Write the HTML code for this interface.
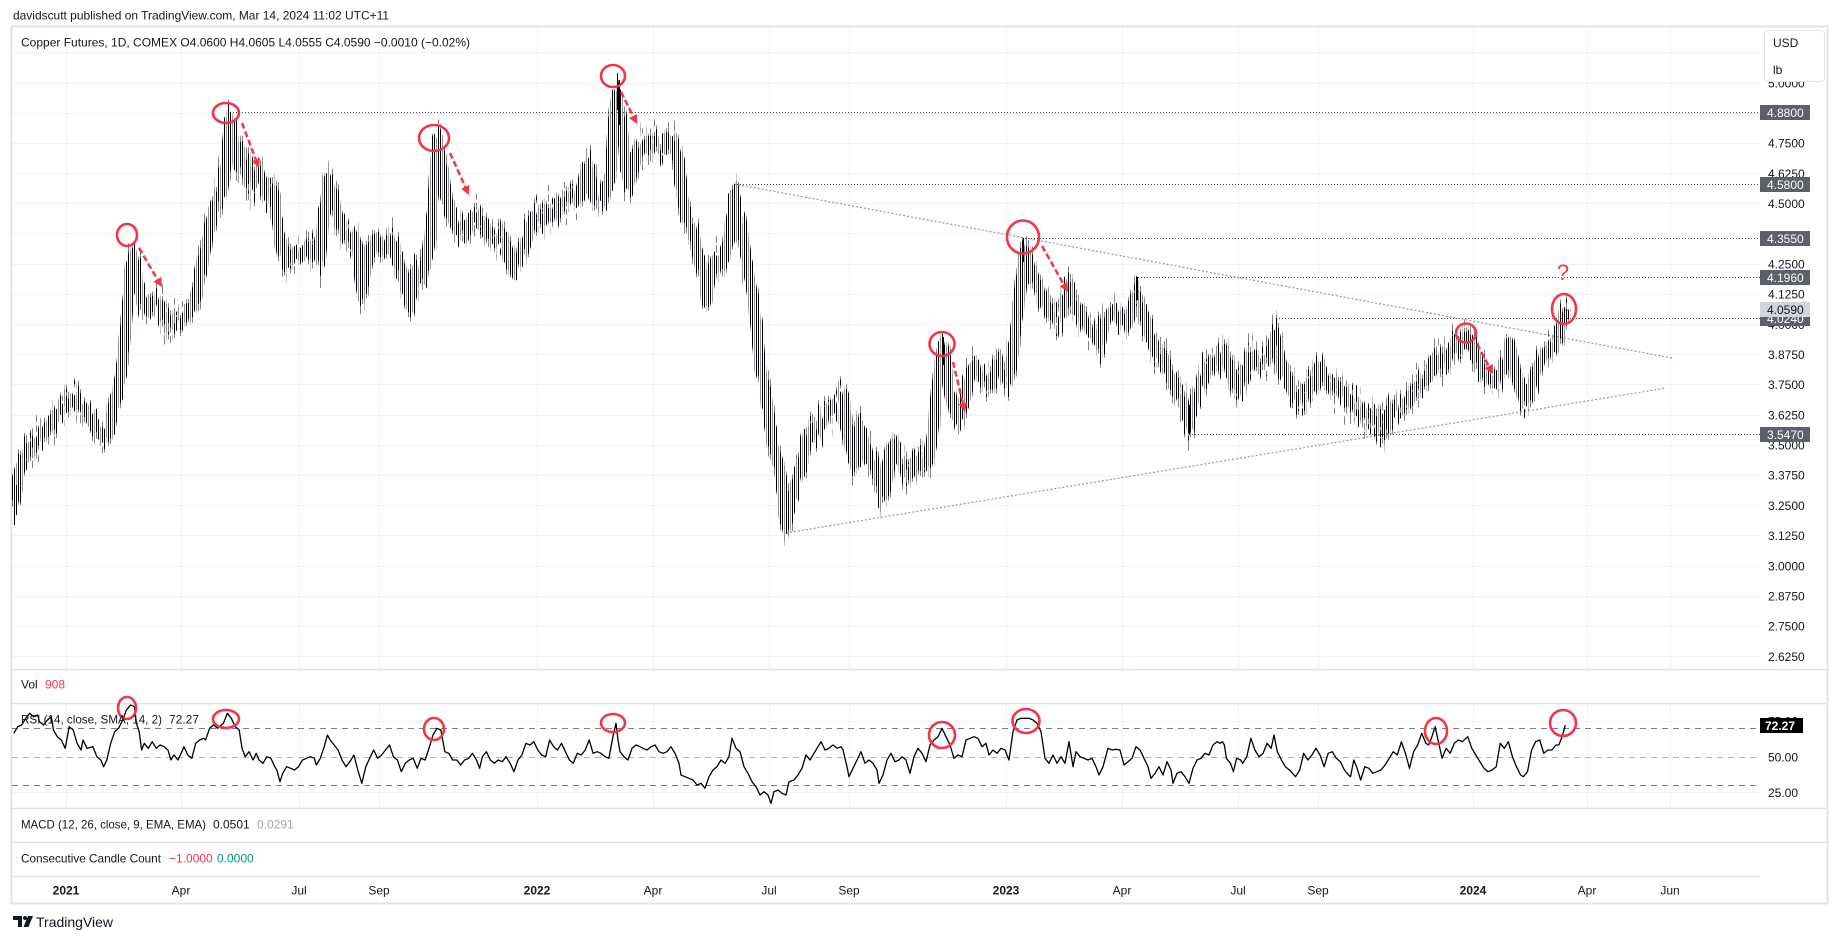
<!DOCTYPE html>
<html><head><meta charset="utf-8"><title>Copper Futures</title>
<style>
html,body{margin:0;padding:0;background:#fff;}
svg{display:block;font-family:"Liberation Sans",Arial,sans-serif;}
</style></head><body>
<svg width="1838" height="939" viewBox="0 0 1838 939" xmlns="http://www.w3.org/2000/svg">
<rect width="1838" height="939" fill="#fff"/>
<defs>
<clipPath id="pc"><rect x="12" y="27" width="1748" height="642"/></clipPath>
<clipPath id="rc"><rect x="12" y="704" width="1748" height="104"/></clipPath>
<pattern id="vb" patternUnits="userSpaceOnUse" x="0" y="0" width="6" height="10">
<rect x="0" y="0" width="1" height="10" fill="#000"/>
<rect x="2" y="0" width="1" height="10" fill="#000"/>
<rect x="4" y="0" width="1" height="10" fill="#8f929b"/>
</pattern>
<filter id="jagA" filterUnits="userSpaceOnUse" x="0" y="0" width="1838" height="700" color-interpolation-filters="sRGB">
<feTurbulence type="fractalNoise" baseFrequency="0.45 0" numOctaves="2" seed="3" result="t"/>
<feColorMatrix in="t" type="matrix" values="0 0 0 0 0.5  0 1 0 0 0  0 0 0 0 0  0 0 0 0 1" result="m"/>
<feDisplacementMap in="SourceGraphic" in2="m" scale="52" xChannelSelector="R" yChannelSelector="G"/>
</filter>
<filter id="jagB" filterUnits="userSpaceOnUse" x="0" y="0" width="1838" height="700" color-interpolation-filters="sRGB">
<feTurbulence type="fractalNoise" baseFrequency="0.5 0" numOctaves="2" seed="11" result="t"/>
<feColorMatrix in="t" type="matrix" values="0 0 0 0 0.5  0 1 0 0 0  0 0 0 0 0  0 0 0 0 1" result="m"/>
<feDisplacementMap in="SourceGraphic" in2="m" scale="84" xChannelSelector="R" yChannelSelector="G"/>
</filter>
<filter id="jagC" filterUnits="userSpaceOnUse" x="0" y="0" width="1838" height="700" color-interpolation-filters="sRGB">
<feTurbulence type="fractalNoise" baseFrequency="0.6 0" numOctaves="1" seed="27" result="t"/>
<feColorMatrix in="t" type="matrix" values="0 0 0 0 0.5  0 1 0 0 0  0 0 0 0 0  0 0 0 0 1" result="m"/>
<feDisplacementMap in="SourceGraphic" in2="m" scale="70" xChannelSelector="R" yChannelSelector="G"/>
</filter>
<polyline id="pp" points="14,505 18,480 22,460 30,448 40,438 50,425 60,410 70,400 75,398 82,408 90,418 98,432 104,438 109,430 114,405 119,385 124,350 128,300 131,265 134,255 137,280 141,300 146,310 152,300 158,305 164,315 170,325 176,320 182,320 188,312 194,305 198,285 204,255 210,225 215,205 220,195 224,180 227,150 230,122 234,140 238,165 242,150 247,175 252,185 258,170 263,185 268,195 273,190 278,225 283,255 288,262 295,252 302,255 310,245 316,255 320,260 324,215 328,180 332,195 338,215 345,235 352,240 358,250 362,295 366,265 371,250 377,240 384,250 391,240 396,255 401,270 406,285 410,305 415,270 420,280 426,265 430,240 434,190 438,140 442,165 447,200 452,215 458,230 465,235 470,220 477,215 484,225 490,235 496,240 502,235 508,250 513,270 518,255 524,250 530,225 536,215 542,220 548,210 554,215 560,205 566,200 572,195 578,200 584,180 589,165 593,195 598,200 603,200 607,190 611,170 614,120 617,95 620,110 623,140 626,170 630,185 634,160 638,150 642,145 647,150 652,140 657,145 662,150 667,140 672,145 676,150 679,165 682,195 686,215 690,225 695,240 700,260 704,280 707,300 711,270 716,260 721,265 726,250 730,240 734,195 737,215 741,225 745,250 749,275 753,300 757,330 760,365 764,380 768,410 772,440 776,455 780,470 783,500 786,525 790,505 795,485 800,470 805,450 810,430 815,435 820,425 825,415 830,410 835,405 840,400 843,395 847,430 851,450 855,465 859,425 863,440 868,455 873,465 878,470 882,495 886,490 890,450 894,445 899,460 904,470 909,475 913,470 918,455 923,465 928,460 932,440 935,410 938,380 941,355 944,348 948,385 952,400 956,415 960,420 964,400 968,385 972,370 976,365 980,375 985,380 990,385 995,375 999,360 1003,375 1008,380 1012,360 1016,330 1019,300 1022,270 1025,250 1029,265 1034,280 1040,290 1046,305 1052,315 1058,320 1064,310 1069,285 1073,305 1078,310 1084,320 1090,330 1096,330 1100,345 1105,320 1110,315 1115,310 1120,320 1126,325 1131,310 1136,295 1140,305 1145,320 1150,335 1155,350 1160,355 1165,360 1170,375 1175,390 1180,395 1185,410 1189,425 1193,405 1198,390 1203,380 1208,365 1213,360 1218,365 1223,350 1228,365 1233,380 1238,390 1243,380 1248,360 1253,355 1258,365 1263,360 1268,360 1272,350 1276,335 1280,360 1285,370 1290,385 1295,395 1300,400 1305,395 1310,385 1315,380 1319,365 1324,380 1329,385 1334,390 1339,385 1344,395 1349,400 1354,405 1359,410 1364,415 1369,420 1374,415 1379,425 1384,432 1389,415 1394,405 1399,410 1404,405 1409,400 1414,390 1419,385 1424,380 1429,375 1434,360 1439,355 1444,365 1449,355 1454,345 1459,348 1464,340 1468,338 1472,345 1476,355 1480,365 1485,375 1490,380 1495,382 1500,375 1505,365 1510,345 1515,370 1520,390 1525,400 1530,395 1535,375 1540,360 1545,355 1550,350 1555,345 1559,335 1562,322 1566,310"/>
</defs>
<!-- grid -->
<g stroke="#f0f3fa" stroke-width="1" fill="none">
<path d="M12 52.5H1760M12 83.5H1760M12 113.5H1760M12 143.5H1760M12 173.5H1760M12 203.5H1760M12 233.5H1760M12 264.5H1760M12 294.5H1760M12 324.5H1760M12 354.5H1760M12 384.5H1760M12 415.5H1760M12 445.5H1760M12 475.5H1760M12 505.5H1760M12 535.5H1760M12 566.5H1760M12 596.5H1760M12 626.5H1760M12 656.5H1760"/>
<path d="M66.5 27V669M181.5 27V669M299.5 27V669M379.5 27V669M537.5 27V669M653.5 27V669M769.5 27V669M849.5 27V669M1006.5 27V669M1122.5 27V669M1238.5 27V669M1318.5 27V669M1473.5 27V669M1587.5 27V669M1670.5 27V669"/>
<path d="M66.5 703V808M181.5 703V808M299.5 703V808M379.5 703V808M537.5 703V808M653.5 703V808M769.5 703V808M849.5 703V808M1006.5 703V808M1122.5 703V808M1238.5 703V808M1318.5 703V808M1473.5 703V808M1587.5 703V808M1670.5 703V808"/>
<path d="M12 721.5H1760M12 792.5H1760"/>
</g>
<g stroke="#e0e3eb" stroke-width="1.5" fill="none">
<path d="M12 669.5H1828M12 703.5H1828M12 808.5H1828M12 842.5H1828M12 876.5H1760"/>
</g>
<rect x="11.5" y="26.5" width="1816" height="877" fill="none" stroke="#e0e3eb" stroke-width="2"/>

<text x="13" y="19.3" font-size="12" fill="#131722" textLength="376" lengthAdjust="spacingAndGlyphs">davidscutt published on TradingView.com, Mar 14, 2024 11:02 UTC+11</text>
<text x="21" y="46.3" font-size="12" fill="#131722" textLength="449" lengthAdjust="spacingAndGlyphs">Copper Futures, 1D, COMEX  O4.0600  H4.0605  L4.0555  C4.0590  −0.0010 (−0.02%)</text>

<g stroke="#434651" stroke-width="1" stroke-dasharray="1 2" fill="none">
<path d="M230 112.5H1760"/>
<path d="M734 184.5H1760"/>
<path d="M1025 238.5H1760"/>
<path d="M1138 277.5H1760"/>
<path d="M1276 318.5H1760"/>
<path d="M1189 434.5H1760"/>
</g>
<g stroke="#9598a1" stroke-width="1.2" stroke-dasharray="2 2" fill="none">
<path d="M734 184L1672 358"/>
<path d="M786 533L1666 388"/>
</g>

<!-- price bars -->
<g clip-path="url(#pc)">
<g fill="none" stroke="url(#vb)" stroke-linejoin="round" stroke-linecap="butt">
<use href="#pp" filter="url(#jagA)" stroke-width="12"/>
<use href="#pp" filter="url(#jagB)" stroke-width="5"/>
<use href="#pp" filter="url(#jagC)" stroke-width="4"/>
</g>
<path stroke="#000" stroke-width="1" fill="none" d="M14.5 495V525M16.5 485V515M134.5 245V272M230.5 112V140M438.5 127V150M617.5 73V110M619.5 80V125M734.5 184V215M786.5 505V534M943.5 337V365M1023.5 238V262M1137.5 277V300M1189.5 405V434M1276.5 318V345M1384.5 410V440M1468.5 330V350M1564.5 307V323M1566.5 309.9V311.1M1565.5 310H1566.5M1566.5 310.3H1567.5"/>
</g>

<g stroke-width="1" fill="none" stroke-dasharray="6 5">
<path d="M12 728.5H1760" stroke="#787b86"/>
<path d="M12 757.5H1760" stroke="#b2b5be"/>
<path d="M12 785.5H1760" stroke="#787b86"/>
</g>
<g clip-path="url(#rc)">
<polyline fill="none" stroke="#000" stroke-width="1.3" stroke-linejoin="round" points="13.8,733.3 17.8,726.7 21.7,725 25.7,718.3 29.7,713.3 33.6,716.7 37.6,715 39.5,721.7 43.5,725 47.4,720 51.4,716.7 53.4,730 57.3,736.7 61.3,740 65.2,748.3 69.2,726.7 73.2,730 77.1,743.3 81.1,750 83,740 87,748.3 92.9,746.7 96.9,756.7 100.8,760 103.6,766.7 106.8,760 110.7,743.3 114.7,731.7 118.6,728.3 122.6,720 126.5,710 130.5,705 134.4,706.7 136.4,723.3 139.2,731.7 141.6,750 144.3,743.3 148.3,748.3 152.2,741.7 156.2,748.3 160.1,745 164.1,746.7 168,750 170.8,760 174,755 177.9,760 181.9,751.7 183.9,746.7 187.8,755 191.8,758.3 195.7,743.3 199.7,740 203.6,738.3 205.6,740 209.6,728.3 213.5,725 217.5,728.3 223.4,723.3 227.4,713.3 231.3,718.3 235.3,726.7 239.2,730 242,748.3 245.2,756.7 249.1,751.7 253.1,760 256.2,753.3 259,760 263,763.3 266.9,756.7 270.9,758.3 274.8,766.7 276.8,770 280,781.7 282.7,773.3 286.7,766.7 290.6,768.3 294.6,770 298.5,766.7 302.5,760 306.4,758.3 310.4,756.7 314.4,758.3 316.3,765 320.3,758.3 324.2,746.7 327.4,735 330.2,740 334.1,745 338.1,750 342,760 346,766.7 349.9,761.7 353.9,755 357.8,770 361.8,783.3 365.8,766.7 369.7,758.3 373.7,750 377.6,758.3 381.6,755 385.5,750 389.5,745 393.4,756.7 397.4,760 401.3,771.7 405.3,763.3 409.3,760 413.2,758.3 417.2,768.3 421.1,758.3 425.1,760 429,748.3 433,735 436.9,728.3 440.9,730 444.8,751.7 448.8,753.3 452.7,760 456.7,760 460.7,765 464.6,760 468.6,758.3 472.5,753.3 476.5,760 479.6,768.3 482.4,756.7 486.4,751.7 490.3,760 494.3,763.3 498.2,760 502.2,761.7 506.1,756.7 510.1,763.3 514,771.7 518,760 521.9,755 525.9,743.3 529.9,745 533.8,741.7 537.8,750 541.7,755 545.7,756.7 549.6,740 553.6,746.7 557.5,750 561.5,743.3 565.4,751.7 569.4,760 573.3,763.3 577.3,753.3 581.3,755 585.2,750 589.2,740 593.1,753.3 597.1,751.7 601,753.3 605,756.7 608.9,758.3 612.9,736.7 616,723.3 618,740 620,751.7 624,756.7 628,760 632,748.3 636,745 640,746.7 643,748.3 647,750 651,746.7 655,745 659,751.7 663,753.3 667,751.7 671,746.7 675,753.3 679,763.3 681,775 685,776.7 689,778.3 693,780 697,785 701,783.3 705,788.3 709,776.7 713,770 717,766.7 721,760 725,763.3 729,756.7 732,738.3 736,748.3 740,751.7 744,766.7 748,773.3 752,781.7 756,786.7 760,795 764,791.7 768,795 771,803.3 774,791.7 778,790 782,793.3 786,795 789,781.7 794,780 798,775 802,768.3 806,755 810,760 814,753.3 817,748.3 821,741.7 825,750 829,748.3 833,745 837,748.3 841,746.7 843,750 847,766.7 849,776.7 853,768.3 857,760 861,751.7 865,763.3 869,760 873,763.3 877,770 879,783.3 883,775 887,760 891,753.3 895,761.7 899,760 902,756.7 906,760 910,773.3 914,756.7 918,748.3 922,753.3 926,761.7 930,745 934,740 938,736.7 942,728.3 946,736.7 950,745 954,758.3 958,755 962,756.7 966,740 970,738.3 974,736.7 978,738.3 982,746.7 986,743.3 989,755 993,750 997,753.3 1001,748.3 1005,750 1009,760 1013,731.7 1017,720 1021,718.3 1025,718.3 1029,718.3 1033,720 1037,723.3 1041,731.7 1045,758.3 1049,763.3 1053,755 1057,763.3 1061,756.7 1065,763.3 1069,741.7 1073,766.7 1076,751.7 1080,756.7 1084,758.3 1088,760 1092,758.3 1096,766.7 1099,775 1103,766.7 1108,748.3 1112,750 1116,749.3 1120,750 1124,765 1128,761.7 1132,758.3 1136,746.7 1140,750 1144,758.3 1148,766.7 1151,778.3 1155,773.3 1159,766.7 1163,775 1167,761.7 1171,770 1173,783.3 1177,773.3 1181,771.7 1185,776.7 1189,783.3 1193,768.3 1197,760 1201,758.3 1205,753.3 1209,755 1213,745 1217,741.7 1220,743.3 1222.4,741.7 1224.4,745 1226.4,758.3 1230.5,763.3 1233.4,771.7 1236.6,758.3 1240.7,760 1242.7,763.3 1246.8,756.7 1250.9,738.3 1254.9,750 1259,756.7 1263.1,753.3 1267.1,743.3 1271.2,748.3 1274,735 1277.3,751.7 1281.4,760 1285.4,766.7 1289.5,770 1295.6,776.7 1299.7,770 1303.7,753.3 1307.8,760 1311.9,755 1315.9,748.3 1320,755 1324.1,766.7 1328.2,753.3 1332.2,751.7 1336.3,758.3 1340.4,761.7 1344.4,770 1348.5,775 1350.5,776.7 1353.8,760 1356.6,766.7 1360.7,780 1364.8,766.7 1368.8,768.3 1372.9,773.3 1377,771.7 1381,770 1385.1,765 1389.2,758.3 1393.2,751.7 1397.3,755 1401.4,741.7 1405.4,753.3 1409.5,768.3 1413.6,751.7 1417.7,745 1421.7,733.3 1425.8,743.3 1428.6,745 1431.9,736.7 1435.2,726.7 1438,740 1442.1,758.3 1446.1,748.3 1450.2,753.3 1454.3,743.3 1458.3,740 1462.4,741.7 1467.7,736.7 1471.8,748.3 1475.8,755 1479.9,761.7 1484,768.3 1488,771.7 1492.1,770 1496.2,766.7 1500.2,743.3 1504.3,748.3 1508.4,741.7 1512.4,756.7 1516.5,766.7 1520.6,775 1523.4,776.7 1527.5,771.7 1531.6,750 1535.6,741.7 1539.7,740 1543.8,753.3 1547.8,750 1551.9,750 1556,745 1558.8,745 1562.1,736.7 1565.3,725.2"/>
</g>

<g fill="none" stroke="#f23645" stroke-width="2.6">
<ellipse cx="127" cy="235" rx="10" ry="11"/>
<ellipse cx="226" cy="113" rx="13" ry="10"/>
<ellipse cx="434" cy="138" rx="15" ry="13"/>
<ellipse cx="613" cy="76" rx="12" ry="11"/>
<ellipse cx="942" cy="344" rx="12.5" ry="12"/>
<ellipse cx="1023" cy="237" rx="16" ry="16.5"/>
<ellipse cx="1466" cy="333" rx="10" ry="9.5"/>
<ellipse cx="1564" cy="309" rx="12" ry="15"/>
<ellipse cx="127" cy="708" rx="9" ry="11"/>
<ellipse cx="226" cy="719" rx="13" ry="9"/>
<ellipse cx="434" cy="729" rx="10" ry="11"/>
<ellipse cx="613" cy="723" rx="12" ry="9"/>
<ellipse cx="942" cy="735" rx="13" ry="13"/>
<ellipse cx="1026" cy="721" rx="13.5" ry="12"/>
<ellipse cx="1436" cy="731" rx="11" ry="13"/>
<ellipse cx="1563" cy="723" rx="13" ry="13"/>
</g>
<g stroke="#f23645" stroke-width="2.5" stroke-dasharray="6 3" fill="none">
<path d="M139 248L157.4 279.3"/>
<path d="M242 123L255.8 159.6"/>
<path d="M450 153L465.3 186.8"/>
<path d="M621 92L633 116"/>
<path d="M953 362L962.9 403.3"/>
<path d="M1042 246L1063.6 284.2"/>
<path d="M1477 344L1488.8 366.1"/>
</g>
<g fill="#f23645">
<polygon points="162,287 153.5,281.6 161.3,277.0"/>
<polygon points="259,168 251.6,161.2 260.0,158.0"/>
<polygon points="469,195 461.2,188.7 469.4,185.0"/>
<polygon points="637,124 629.0,118.0 637.0,114.0"/>
<polygon points="965,412 958.5,404.3 967.3,402.2"/>
<polygon points="1068,292 1059.7,286.4 1067.5,282.0"/>
<polygon points="1493,374 1484.8,368.2 1492.8,364.0"/>
</g>
<text x="1563" y="280" font-size="22" fill="#f23645" text-anchor="middle">?</text>

<g font-size="12" fill="#131722">
<text x="1768" y="87.3">5.0000</text>
<text x="1768" y="147.7">4.7500</text>
<text x="1768" y="177.9">4.6250</text>
<text x="1768" y="208">4.5000</text>
<text x="1768" y="268.4">4.2500</text>
<text x="1768" y="298.6">4.1250</text>
<text x="1768" y="328.8">4.0000</text>
<text x="1768" y="359">3.8750</text>
<text x="1768" y="389.2">3.7500</text>
<text x="1768" y="419.4">3.6250</text>
<text x="1768" y="449.5">3.5000</text>
<text x="1768" y="479.7">3.3750</text>
<text x="1768" y="509.9">3.2500</text>
<text x="1768" y="540.1">3.1250</text>
<text x="1768" y="570.3">3.0000</text>
<text x="1768" y="600.5">2.8750</text>
<text x="1768" y="630.7">2.7500</text>
<text x="1768" y="660.9">2.6250</text>
<text x="1768" y="761.3">50.00</text>
<text x="1768" y="797">25.00</text>
<text x="1768" y="725.5">75.00</text>
</g>
<g font-size="12">
<rect x="1760" y="105" width="50" height="15" fill="#5d606b"/><text x="1767" y="117" fill="#fff">4.8800</text>
<rect x="1760" y="177" width="50" height="15" fill="#5d606b"/><text x="1767" y="189" fill="#fff">4.5800</text>
<rect x="1760" y="231" width="50" height="15" fill="#5d606b"/><text x="1767" y="243" fill="#fff">4.3550</text>
<rect x="1760" y="270" width="50" height="15" fill="#5d606b"/><text x="1767" y="282" fill="#fff">4.1960</text>
<rect x="1760" y="311" width="50" height="15" fill="#5d606b"/><text x="1767" y="323" fill="#fff">4.0240</text>
<rect x="1760" y="302" width="50" height="15" fill="#d1d4dc"/><text x="1767" y="314" fill="#131722">4.0590</text>
<rect x="1760" y="427" width="50" height="15" fill="#5d606b"/><text x="1767" y="439" fill="#fff">3.5470</text>
<rect x="1760" y="718" width="43" height="15" fill="#000"/><text x="1765" y="730" fill="#fff" font-weight="bold">72.27</text>
</g>
<rect x="1764.5" y="30.5" width="60" height="51" rx="4" fill="#fff" stroke="#e0e3eb"/>
<text x="1773" y="47" font-size="12" fill="#131722">USD</text>
<text x="1773" y="74" font-size="12" fill="#131722">lb</text>

<g font-size="12" fill="#131722">
<text x="21" y="688.3">Vol</text><text x="45" y="688.3" fill="#f23645">908</text>
<text x="21" y="723.3" textLength="141" lengthAdjust="spacingAndGlyphs">RSI (14, close, SMA, 14, 2)</text><text x="169" y="723.3">72.27</text>
<text x="21" y="828.3" textLength="185" lengthAdjust="spacingAndGlyphs">MACD (12, 26, close, 9, EMA, EMA)</text><text x="213" y="828.3">0.0501</text><text x="257" y="828.3" fill="#a3a6af">0.0291</text>
<text x="21" y="862.3" textLength="140" lengthAdjust="spacingAndGlyphs">Consecutive Candle Count</text><text x="169" y="862.3" fill="#f23645">−1.0000</text><text x="217" y="862.3" fill="#089981">0.0000</text>
</g>
<g font-size="12" fill="#131722" text-anchor="middle">
<text x="66" y="894.3" font-weight="bold">2021</text>
<text x="181" y="894.3">Apr</text>
<text x="299" y="894.3">Jul</text>
<text x="379" y="894.3">Sep</text>
<text x="537" y="894.3" font-weight="bold">2022</text>
<text x="653" y="894.3">Apr</text>
<text x="769" y="894.3">Jul</text>
<text x="849" y="894.3">Sep</text>
<text x="1006" y="894.3" font-weight="bold">2023</text>
<text x="1122" y="894.3">Apr</text>
<text x="1238" y="894.3">Jul</text>
<text x="1318" y="894.3">Sep</text>
<text x="1473" y="894.3" font-weight="bold">2024</text>
<text x="1587" y="894.3">Apr</text>
<text x="1670" y="894.3">Jun</text>
</g>
<g fill="#131722">
<path d="M13 916h9v11h-4v-7h-5z"/>
<circle cx="25" cy="918" r="2"/>
<polygon points="28,916 33,916 28.5,927 23.5,927"/>
</g>
<text x="36" y="927" font-size="14" fill="#131722">TradingView</text>
</svg>
</body></html>
